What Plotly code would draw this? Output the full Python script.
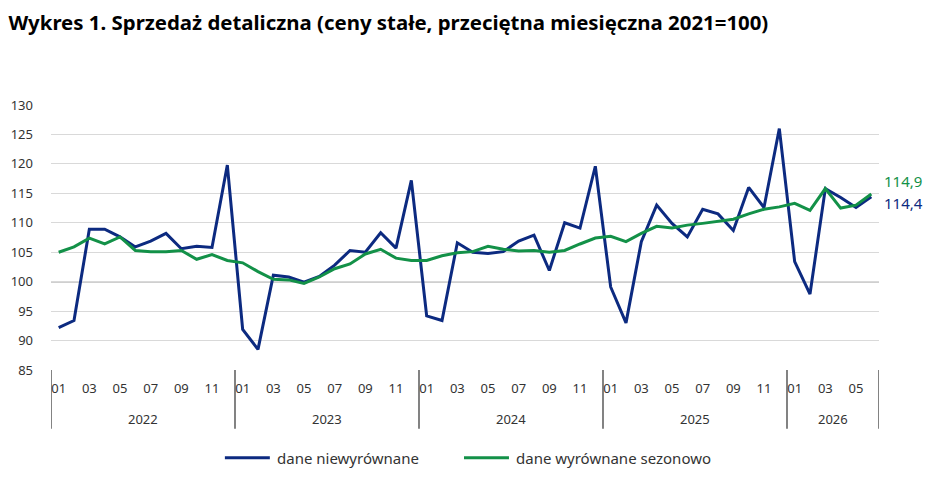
import plotly.graph_objects as go

# months 2022-01 .. 2026-06
years = [2022, 2023, 2024, 2025, 2026]
months_per_year = [12, 12, 12, 12, 6]

unadjusted = [92.2, 93.4, 108.9, 108.9, 107.6, 105.9, 106.9, 108.2, 105.6, 106.0, 105.8, 119.8,
              91.9, 88.5, 101.1, 100.8, 99.9, 100.9, 102.8, 105.3, 105.0, 108.3, 105.7, 117.2,
              94.2, 93.4, 106.6, 105.0, 104.8, 105.1, 106.9, 107.9, 101.9, 110.0, 109.1, 119.6,
              99.1, 93.0, 106.8, 113.0, 109.9, 107.6, 112.3, 111.5, 108.7, 116.0, 112.6, 126.0,
              103.4, 97.9, 115.8, 114.3, 112.6, 114.4]

seasonal = [105.0, 105.9, 107.4, 106.4, 107.6, 105.3, 105.1, 105.1, 105.3, 103.8, 104.6, 103.6,
            103.2, 101.7, 100.4, 100.3, 99.7, 100.8, 102.2, 103.0, 104.7, 105.5, 104.0, 103.6,
            103.6, 104.4, 104.9, 105.1, 106.0, 105.5, 105.2, 105.3, 105.0, 105.3, 106.4, 107.4,
            107.7, 106.8, 108.2, 109.4, 109.1, 109.6, 109.9, 110.3, 110.6, 111.5, 112.3, 112.7,
            113.3, 112.1, 115.8, 112.5, 113.0, 114.9]

series_names = ["dane niewyrównane", "dane wyrównane sezonowo"]
y_ticks = [85, 90, 95, 100, 105, 110, 115, 120, 125, 130]

BLUE = "#0c2a80"
GREEN = "#139148"
FONT = "Noto Sans"
TXT = "#333333"

# month index and labels
month_labels = []
for y, n in zip(years, months_per_year):
    for m in range(1, n + 1):
        month_labels.append("%02d" % m)
x = list(range(len(month_labels)))
tick_idx = [i for i in x if int(month_labels[i]) % 2 == 1]

fig = go.Figure()
fig.add_trace(go.Scatter(x=x, y=unadjusted, mode="lines", name=series_names[0],
                         line=dict(color=BLUE, width=3), showlegend=False))
fig.add_trace(go.Scatter(x=x, y=seasonal, mode="lines", name=series_names[1],
                         line=dict(color=GREEN, width=3), showlegend=False))

# year separators and year labels
start = 0
bounds = [-0.5]
for y, n in zip(years, months_per_year):
    fig.add_annotation(x=start + (n - 1) / 2, y=0, xref="x", yref="paper",
                       text=str(y), showarrow=False, yshift=-49, yanchor="middle",
                       font=dict(family=FONT, size=13, color=TXT))
    start += n
    bounds.append(start - 0.5)
for b in bounds:
    fig.add_shape(type="line", x0=b, x1=b, xref="x", y0=0, y1=-0.222, yref="paper",
                  line=dict(color="#404040", width=1.3))

# line at 100
fig.add_shape(type="line", x0=0, x1=1, xref="paper", y0=100, y1=100, yref="y",
              line=dict(color="#404040", width=1.3), layer="below")

# last value labels
fig.add_annotation(x=x[-1], y=seasonal[-1], xref="x", yref="y", text="114,9",
                   showarrow=False, xanchor="left", xshift=11, yshift=13,
                   font=dict(family=FONT, size=15, color=GREEN))
fig.add_annotation(x=x[-1], y=unadjusted[-1], xref="x", yref="y", text="114,4",
                   showarrow=False, xanchor="left", xshift=11, yshift=-6,
                   font=dict(family=FONT, size=15, color=BLUE))

# legend below the axis
legend_items = [(series_names[0], BLUE, 0.210), (series_names[1], GREEN, 0.4988)]
for name, col, x0 in legend_items:
    fig.add_shape(type="line", x0=x0, x1=x0 + 0.0543, xref="paper", y0=-0.331, y1=-0.331,
                  yref="paper", line=dict(color=col, width=3))
    fig.add_annotation(x=x0 + 0.0604, y=-0.331, xref="paper", yref="paper", text=name,
                       showarrow=False, xanchor="left", yanchor="middle",
                       font=dict(family=FONT, size=15, color=TXT))

fig.update_layout(
    width=934, height=501,
    margin=dict(l=51, r=55, t=105, b=131, autoexpand=False),
    paper_bgcolor="white", plot_bgcolor="white",
    title=dict(text="<b>Wykres 1. Sprzedaż detaliczna (ceny stałe, przeciętna miesięczna 2021=100)</b>",
               x=0.009, xanchor="left", y=0.955, yanchor="middle",
               font=dict(family=FONT, size=20.4, color="black")),
    font=dict(family=FONT, size=13, color=TXT),
    showlegend=False,
)
fig.update_xaxes(range=[-0.5, len(x) - 0.5], tickvals=tick_idx, automargin=False,
                 ticktext=[month_labels[i] for i in tick_idx],
                 showgrid=False, zeroline=False, showline=False, ticks="",
                 ticklabelstandoff=9,
                 tickfont=dict(family=FONT, size=13, color=TXT))
fig.update_yaxes(range=[85, 130], tickvals=y_ticks, showgrid=True, gridcolor="#d9d9d9",
                 gridwidth=1, zeroline=False, showline=False, ticks="", automargin=False,
                 ticklabelstandoff=17,
                 tickfont=dict(family=FONT, size=13, color=TXT))

fig.write_html("out.html", config={"displayModeBar": False},
               post_script="document.body.style.margin='0';")
